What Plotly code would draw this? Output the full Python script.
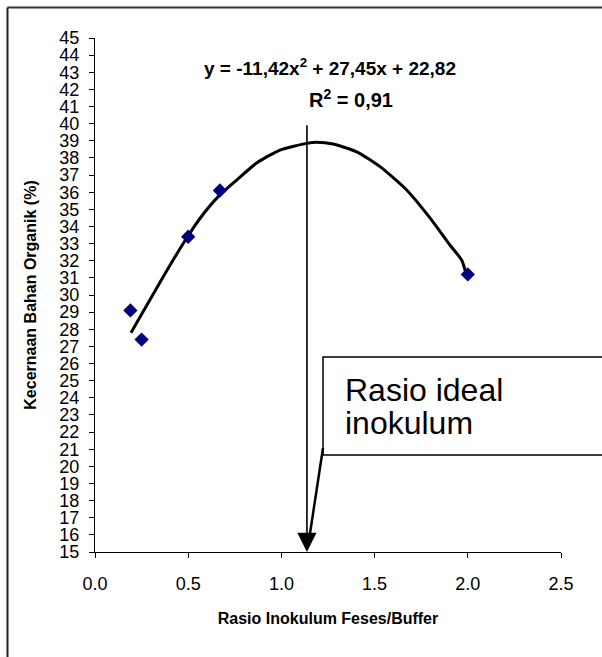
import plotly.graph_objects as go

# Observed data points
ratio = [0.19, 0.25, 0.50, 0.67, 2.00]
digestibility = [29.1, 27.4, 33.4, 36.1, 31.2]

# Trendline as drawn
trend_x = [0.193, 0.349, 0.474, 0.564, 0.661, 0.760, 0.867, 0.992, 1.136,
           1.189, 1.278, 1.404, 1.529, 1.672, 1.797, 1.904, 1.967, 1.990]
trend_y = [27.80, 30.75, 33.02, 34.48, 35.74, 36.71, 37.70, 38.46, 38.85,
           38.91, 38.81, 38.36, 37.49, 36.13, 34.50, 32.92, 32.04, 31.26]

ideal_ratio = 1.137
ideal_line_top = 40.0

x_ticks = [0.0, 0.5, 1.0, 1.5, 2.0, 2.5]
y_ticks = list(range(15, 46))

equation_text = "y = -11,42x<sup>2</sup> + 27,45x + 22,82"
r2_text = "R<sup>2</sup> = 0,91"
box_lines = ["Rasio ideal", "inokulum"]
x_title = "Rasio Inokulum Feses/Buffer"
y_title = "Kecernaan Bahan Organik (%)"

FONT = "Arial, Liberation Sans, sans-serif"

# pixel -> paper helpers (plot area: x 95..561, y 38..552)
L, R, T, B = 95, 561, 38, 552
def px(x):
    return (x - L) / (R - L)
def py(y):
    return (B - y) / (B - T)

fig = go.Figure()
fig.add_trace(go.Scatter(x=trend_x, y=trend_y, mode="lines",
                         line=dict(color="black", width=3, shape="spline", smoothing=0.6),
                         hoverinfo="skip", showlegend=False))
fig.add_trace(go.Scatter(x=ratio, y=digestibility, mode="markers",
                         marker=dict(symbol="diamond", size=11, color="#000080"),
                         showlegend=False))

# vertical arrow at ideal ratio
fig.add_annotation(x=ideal_ratio, y=15, ax=ideal_ratio, ay=ideal_line_top,
                   xref="x", yref="y", axref="x", ayref="y",
                   text="", showarrow=True, arrowhead=2, arrowsize=2.4,
                   arrowwidth=1.6, arrowcolor="black")

shapes = [
    # outer frame (top and left, cut off at right/bottom)
    dict(type="line", xref="paper", yref="paper", x0=px(7.5), x1=px(610),
         y0=py(7.5), y1=py(7.5), line=dict(color="#333333", width=2)),
    dict(type="line", xref="paper", yref="paper", x0=px(7.5), x1=px(7.5),
         y0=py(7.5), y1=py(665), line=dict(color="#222222", width=2)),
    # callout box
    dict(type="rect", xref="paper", yref="paper", x0=px(323), x1=px(620),
         y0=py(455), y1=py(357), line=dict(color="black", width=1.5),
         fillcolor="white"),
    # callout pointer
    dict(type="line", xref="paper", yref="paper", x0=px(323), x1=px(309),
         y0=py(448), y1=py(540), line=dict(color="black", width=2.5)),
]

annotations = [
    dict(text=equation_text, xref="paper", yref="paper", x=px(202), y=py(67),
         xanchor="left", yanchor="middle", showarrow=False,
         font=dict(family=FONT, size=19, color="black", weight="bold")),
    dict(text=r2_text, xref="paper", yref="paper", x=px(307), y=py(98),
         xanchor="left", yanchor="middle", showarrow=False,
         font=dict(family=FONT, size=20, color="black", weight="bold")),
    dict(text=box_lines[0], xref="paper", yref="paper", x=px(343), y=py(390),
         xanchor="left", yanchor="middle", showarrow=False,
         font=dict(family=FONT, size=32, color="black")),
    dict(text=box_lines[1], xref="paper", yref="paper", x=px(343), y=py(423),
         xanchor="left", yanchor="middle", showarrow=False,
         font=dict(family=FONT, size=32, color="black")),
]
for a in annotations:
    fig.add_annotation(**a)

fig.update_layout(
    width=602, height=657,
    margin=dict(l=L, r=602 - R, t=T, b=657 - B),
    paper_bgcolor="white", plot_bgcolor="white",
    shapes=shapes,
    font=dict(family=FONT, color="black"),
    showlegend=False,
)
fig.update_xaxes(range=[0, 2.5], tickvals=x_ticks,
                 ticktext=[f"{v:.1f}" for v in x_ticks],
                 showgrid=False, zeroline=False, showline=True,
                 linecolor="black", linewidth=1, ticks="outside", ticklen=5,
                 tickcolor="black", tickfont=dict(size=18, family=FONT),
                 ticklabelstandoff=10,
                 title=dict(text=x_title, standoff=20,
                            font=dict(size=16, family=FONT, weight="bold")))
fig.update_yaxes(range=[15, 45], tickvals=y_ticks,
                 showgrid=False, zeroline=False, showline=True,
                 linecolor="black", linewidth=1, ticks="outside", ticklen=5,
                 tickcolor="black", tickfont=dict(size=18, family=FONT),
                 ticklabelstandoff=6,
                 title=dict(text=y_title, standoff=18,
                            font=dict(size=16, family=FONT, weight="bold")))

fig.write_html("out.html", config={"displayModeBar": False},
               post_script="document.body.style.margin='0';document.body.style.overflow='hidden';")
